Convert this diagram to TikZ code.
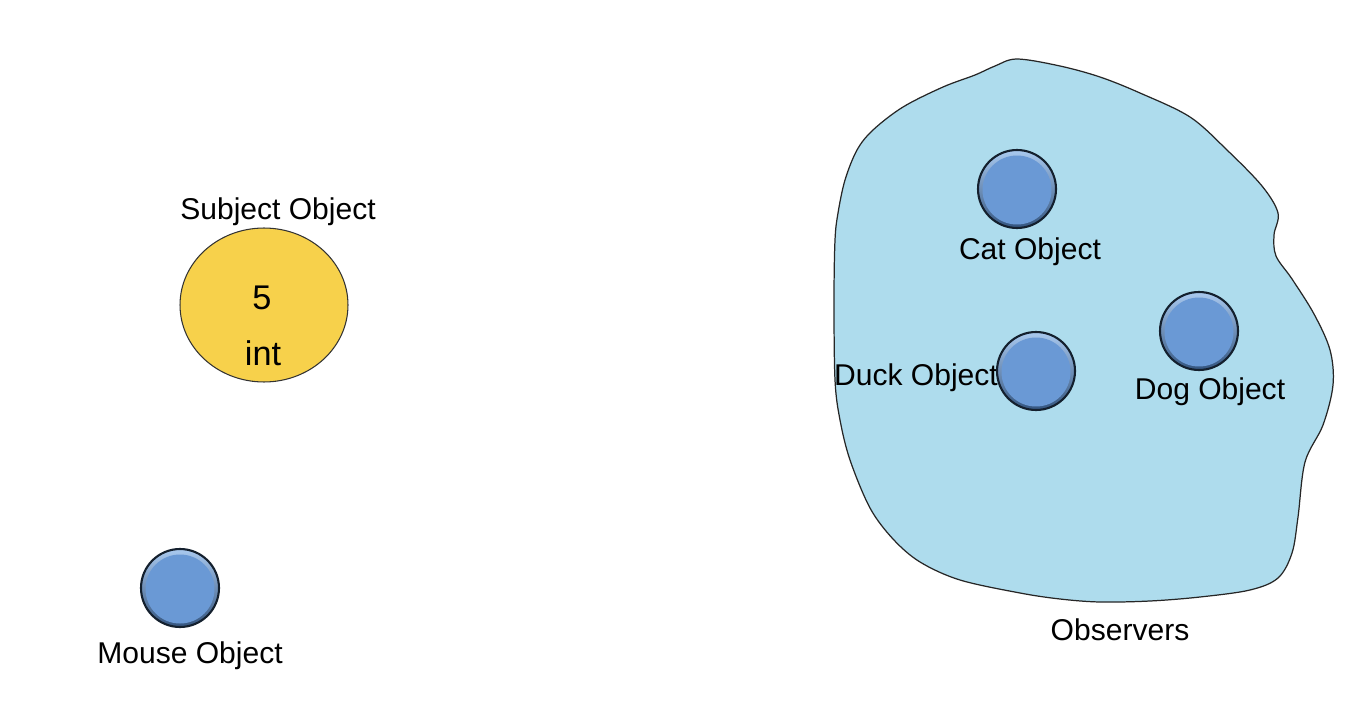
\documentclass[tikz,border=0pt]{standalone}
\usepackage{fontspec}
\setmainfont{Liberation Sans}
\usetikzlibrary{shapes.geometric}

\definecolor{blobfill}{HTML}{AEDCED}
\definecolor{subjfill}{HTML}{F7D14B}
\definecolor{ballfill}{HTML}{6A99D5}
\definecolor{ballhi}{HTML}{A9C9EF}
\definecolor{balllo}{HTML}{34557F}
\definecolor{ballline}{HTML}{14202E}

\tikzset{
  lbl/.style={font=\fontsize{17.1}{20}\selectfont, inner sep=0pt},
  bigtxt/.style={font=\fontsize{19.5}{22}\selectfont, inner sep=0pt},
  ball/.style={circle, draw=ballline, line width=1.2pt, minimum size=1.56cm, inner sep=0pt,
    top color=ballhi, bottom color=balllo,
    path picture={\fill[ballfill] ([yshift=-0.02cm]path picture bounding box.center) circle (0.69cm);}},
  subjball/.style={ellipse, draw=black!80, line width=0.6pt, fill=subjfill,
    minimum width=3.36cm, minimum height=3.08cm, inner sep=0pt}
}

\begin{document}
\begin{tikzpicture}[x=0.02cm, y=-0.02cm]
  \useasboundingbox (0,0) rectangle (1368,716);

  % the observers region
  \draw[fill=blobfill, draw=black!85, line width=0.7pt] plot[smooth cycle, tension=0.55] coordinates {
    (1017,59) (1060,66) (1100,77) (1140,93) (1190,117) (1227,150) (1262,186)
    (1278,213) (1274,235) (1276,256) (1292,279) (1314,314) (1330,350) (1333,385)
    (1323,425) (1305,462) (1298,517) (1292,553) (1278,578) (1250,590) (1200,597)
    (1150,601) (1100,602) (1060,599) (1020,593) (960,580) (920,562) (893,539)
    (870,508) (850,460) (840,420) (835,380) (834,300) (835,240) (838,213)
    (845,180) (857,150) (873,130) (903,107) (943,87) (975,75) (995,66)};
  \node[lbl] (obslbl) at (1120,630) {Observers};

  % subject
  \node[lbl] (subjlbl) at (278,212) {Subject Object};
  \node[subjball] (subject) at (264,305) {};
  \node[bigtxt] (value) at (262,298) {5};
  \node[bigtxt] (type) at (263,353) {int};

  % objects
  \node[ball] (mouse) at (180,588) {};
  \node[lbl] (mouselbl) at (190,656) {Mouse Object};

  \node[ball] (cat) at (1017,189) {};
  \node[lbl] (catlbl) at (1030,252) {Cat Object};

  \node[lbl] (ducklbl) at (916,378) {Duck Object};
  \node[ball] (duck) at (1036,371) {};

  \node[ball] (dog) at (1199,331) {};
  \node[lbl] (doglbl) at (1210,392) {Dog Object};
\end{tikzpicture}
\end{document}
